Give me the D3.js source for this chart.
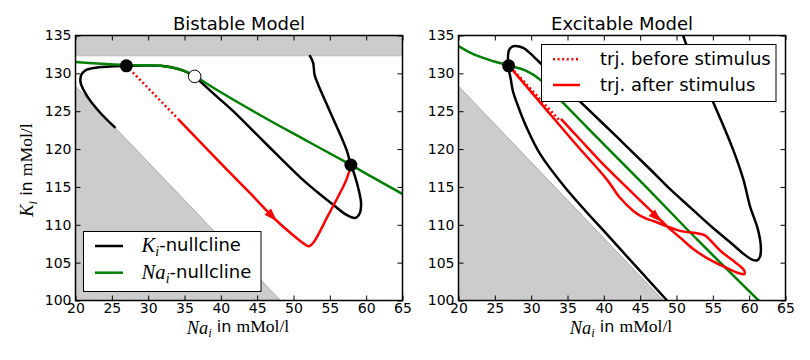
<!DOCTYPE html>
<html>
<head>
<meta charset="utf-8">
<script src="https://cdn.jsdelivr.net/npm/d3@7"></script>
<style>
  body { margin: 0; background: #fff; }
  svg text { font-family: "DejaVu Sans", sans-serif; fill: #000; }
</style>
</head>
<body>
<svg id="chart" width="810" height="360"></svg>
<script>
// ---- data (Na_i, K_i) ----
const xTickVals = [20, 25, 30, 35, 40, 45, 50, 55, 60, 65];
const yTickVals = [100, 105, 110, 115, 120, 125, 130, 135];

// forbidden region (both panels) and upper band (bistable only)
const forbiddenArea = [[20, 128.3], [48.2, 100], [20, 100]];
const bistableBand = [132.3, 135];

// Bistable model
const bistableK = [
  [25.5, 122.8], [23.4, 124.8], [21.6, 127.0], [20.7, 128.8], [20.8, 129.8], [21.3, 130.35],
  [22.5, 130.7], [24.8, 130.9], [27.0, 131.0], [29.5, 131.05], [31.7, 131.0], [33.5, 130.75],
  [35.0, 130.3], [36.4, 129.6], [37.3, 128.8], [39.5, 126.9], [41.7, 125.0], [46.0, 120.9],
  [51.0, 116.2], [53.3, 114.3], [55.4, 112.7], [57.3, 111.3], [58.5, 110.9], [59.1, 111.5],
  [59.3, 112.8], [59.0, 114.5], [58.4, 116.6], [57.9, 117.9], [57.3, 119.9], [55.0, 125.0],
  [53.4, 128.5], [52.9, 129.8], [52.7, 131.4], [52.2, 132.4]
];
const bistableNa = [
  [20, 131.5], [23, 131.3], [27, 131.1], [31.7, 131.0], [34.0, 130.6], [35.3, 130.2],
  [36.4, 129.7], [37.5, 129.0], [40, 127.5], [46.3, 124.0], [52, 121.0], [57.9, 117.9],
  [61.4, 116.0], [65.5, 113.8]
];
const bistableBefore = [[27.0, 131.0], [34.1, 124.0]];
const bistableAfter = [
  [34.1, 124.0], [40, 118.1], [44, 114.2], [47.5, 110.7], [50.5, 108.2], [51.6, 107.4],
  [52.1, 107.15], [52.7, 107.6], [54.8, 111.3], [57.3, 116.0], [57.9, 117.9]
];
const bistableArrow = [[44.6, 113.6], [47.7, 110.5]];
const bistableStable = [[27.0, 131.0], [57.9, 117.9]];
const bistableUnstable = [[36.4, 129.6]];

// Excitable model
const excitableK = [
  [50.4, 136.5], [51.6, 133.2], [52.8, 130.9], [55.5, 125.2], [57.8, 119.9], [59.2, 116.0],
  [60.1, 112.5], [61.2, 109.4], [61.6, 107.2], [61.5, 105.8], [61.1, 105.3], [60.4, 105.4],
  [59.3, 106.1], [57.5, 107.6], [55.0, 109.6], [52.0, 112.2], [48.9, 114.9], [46.4, 117.3],
  [41.8, 121.6], [36.7, 126.3], [33.5, 129.3], [31.0, 131.6], [29.8, 132.7], [28.9, 133.35],
  [27.8, 133.6], [27.2, 133.4], [26.9, 132.9], [26.85, 131.0], [27.2, 129.2], [27.5, 127.6],
  [28.3, 125.4], [29.4, 122.8], [31.2, 119.4], [34.7, 114.9], [41.5, 107.6], [48.7, 100],
  [49.3, 99.4]
];
const excitableNa = [
  [20, 133.6], [22.1, 132.5], [24.8, 131.6], [26.9, 131.05], [29.4, 130.3], [31.2, 129.2],
  [34.2, 126.3], [39.5, 121.1], [45.3, 115.5], [53, 107.9], [61.3, 100], [61.9, 99.4]
];
const excitableBefore = [[27.2, 130.8], [34.0, 123.7]];
const excitableAfter = [
  [34.1, 124.0], [36.7, 121.3], [40.0, 117.9], [43.4, 114.7], [47.3, 111.1], [48.7, 109.8],
  [50.5, 108.3], [52.3, 106.8], [54.2, 105.6], [56.9, 104.3], [58.6, 103.6], [59.35, 103.5],
  [59.3, 104.0], [58.4, 104.8], [56.0, 106.6], [54.6, 108.0], [53.9, 108.6], [53.0, 108.85],
  [50.5, 109.2], [48.7, 109.8], [46.8, 110.5], [45.6, 110.9], [44.1, 111.8], [42.2, 113.6],
  [40.4, 116.0], [36.0, 120.8], [31.2, 126.2], [27.1, 130.8]
];
const excitableArrow = [[44.7, 113.4], [47.9, 110.4]];
const excitableStable = [[26.9, 131.0]];

// ---- layout ----
const svg = d3.select("#chart");
const plotTop = 35.5, plotBottom = 300.5;
const black = "#000000", green = "#008000", red = "#ff0000", gray = "#cccccc";

const line = (x, y) => d3.line().x(d => x(d[0])).y(d => y(d[1]))
  .curve(d3.curveCatmullRom.alpha(0.5));

// text with matplotlib-style math pieces
function mathText(sel, parts) {
  parts.forEach(p => {
    const t = sel.append("tspan").text(p.t);
    if (p.kind === "mi") t.attr("font-family", "Liberation Serif").attr("font-style", "italic").attr("font-size", "1.15em");
    if (p.kind === "sub") t.attr("font-family", "Liberation Serif").attr("font-style", "italic")
      .attr("font-size", "0.78em").attr("dy", "0.3em");
    if (p.kind === "rm") t.attr("font-family", "Liberation Serif").attr("font-size", "1.1em");
    if (p.kind === "txt") t.attr("font-family", "DejaVu Sans");
    if (p.after) t.attr("dy", p.after);
  });
}

function drawPanel(p) {
  const x = d3.scaleLinear().domain([20, 65]).range([p.x0, p.x1]);
  const y = d3.scaleLinear().domain([100, 135]).range([plotBottom, plotTop]);
  const g = svg.append("g");

  svg.append("clipPath").attr("id", "clip" + p.id).append("rect")
    .attr("x", p.x0).attr("y", plotTop).attr("width", p.x1 - p.x0).attr("height", plotBottom - plotTop);
  const plot = g.append("g").attr("clip-path", `url(#clip${p.id})`);

  // shaded regions
  plot.append("path")
    .attr("d", d3.line().x(d => x(d[0])).y(d => y(d[1]))(forbiddenArea) + "Z")
    .attr("fill", gray);
  plot.append("line")
    .attr("x1", x(forbiddenArea[0][0])).attr("y1", y(forbiddenArea[0][1]))
    .attr("x2", x(forbiddenArea[1][0])).attr("y2", y(forbiddenArea[1][1]))
    .attr("stroke", "#aaaaaa").attr("stroke-width", 1);
  if (p.band) {
    plot.append("rect")
      .attr("x", p.x0).attr("width", p.x1 - p.x0)
      .attr("y", y(p.band[1])).attr("height", y(p.band[0]) - y(p.band[1]))
      .attr("fill", gray);
    plot.append("line")
      .attr("x1", p.x0).attr("x2", p.x1).attr("y1", y(p.band[0])).attr("y2", y(p.band[0]))
      .attr("stroke", "#aaaaaa").attr("stroke-width", 1).attr("stroke-dasharray", "1,1");
  }

  const curve = (data, color, dash) => plot.append("path").datum(data)
    .attr("d", line(x, y)).attr("fill", "none")
    .attr("stroke", color).attr("stroke-width", 2.5)
    .attr("stroke-linejoin", "round")
    .attr("stroke-dasharray", dash || null);

  curve(p.k, black);
  curve(p.na, green);
  curve(p.before, red, "2,2.6");
  curve(p.after, red);

  // arrow head along trajectory
  const [a, b] = p.arrow;
  const ax = x(a[0]), ay = y(a[1]), bx = x(b[0]), by = y(b[1]);
  const ang = Math.atan2(by - ay, bx - ax);
  const len = 13, hw = 4.5;
  const baseX = bx - len * Math.cos(ang), baseY = by - len * Math.sin(ang);
  const nx = -Math.sin(ang) * hw, ny = Math.cos(ang) * hw;
  plot.append("path")
    .attr("d", `M${bx},${by}L${baseX + nx},${baseY + ny}L${baseX - nx},${baseY - ny}Z`)
    .attr("fill", red);

  // fixed points
  plot.selectAll(".stable").data(p.stable).join("circle")
    .attr("cx", d => x(d[0])).attr("cy", d => y(d[1])).attr("r", 6.5)
    .attr("fill", black);
  plot.selectAll(".unstable").data(p.unstable).join("circle")
    .attr("cx", d => x(d[0])).attr("cy", d => y(d[1])).attr("r", 6.3)
    .attr("fill", "#fff").attr("stroke", black).attr("stroke-width", 1);

  // ticks on all four sides, pointing inward
  const styleAxis = sel => {
    sel.select(".domain").remove();
    sel.selectAll("line").attr("stroke", black);
    sel.selectAll("text").attr("font-size", 14).attr("font-family", "DejaVu Sans").attr("fill", black);
  };
  g.append("g").attr("transform", `translate(0,${plotBottom})`)
    .call(d3.axisBottom(x).tickValues(xTickVals).tickSizeInner(-5).tickSizeOuter(0).tickPadding(3))
    .call(styleAxis);
  g.append("g").attr("transform", `translate(0,${plotTop})`)
    .call(d3.axisTop(x).tickValues(xTickVals).tickSizeInner(-5).tickSizeOuter(0).tickFormat(""))
    .call(styleAxis);
  g.append("g").attr("transform", `translate(${p.x0},0)`)
    .call(d3.axisLeft(y).tickValues(yTickVals).tickSizeInner(-5).tickSizeOuter(0).tickPadding(4))
    .call(styleAxis);
  g.append("g").attr("transform", `translate(${p.x1},0)`)
    .call(d3.axisRight(y).tickValues(yTickVals).tickSizeInner(-5).tickSizeOuter(0).tickFormat(""))
    .call(styleAxis);

  g.append("rect")
    .attr("x", p.x0).attr("y", plotTop).attr("width", p.x1 - p.x0).attr("height", plotBottom - plotTop)
    .attr("fill", "none").attr("stroke", black).attr("stroke-width", 1.5);

  // title
  g.append("text").attr("x", (p.x0 + p.x1) / 2).attr("y", 29.5)
    .attr("text-anchor", "middle").attr("font-size", 18).text(p.title);

  // x label
  const xl = g.append("text").attr("x", (p.x0 + p.x1) / 2 - 1).attr("y", 333.5)
    .attr("text-anchor", "middle").attr("font-size", 16);
  mathText(xl, [{ t: "Na", kind: "mi" }, { t: "i", kind: "sub" }, { t: " in ", kind: "txt", after: "-0.3em" }, { t: "mMol/l", kind: "rm" }]);

  if (p.ylabel) {
    const yl = g.append("text").attr("transform", `translate(33,${(plotTop + plotBottom) / 2 + 2}) rotate(-90)`)
      .attr("text-anchor", "middle").attr("font-size", 16);
    mathText(yl, [{ t: "K", kind: "mi" }, { t: "i", kind: "sub" }, { t: " in ", kind: "txt", after: "-0.3em" }, { t: "mMol/l", kind: "rm" }]);
  }

  // legend
  const L = p.legend;
  const lg = g.append("g");
  lg.append("rect").attr("x", L.x).attr("y", L.y).attr("width", L.w).attr("height", L.h)
    .attr("fill", "#fff").attr("stroke", black).attr("stroke-width", 1);
  L.items.forEach((it, i) => {
    const ly = L.y + L.first + i * L.step;
    lg.append("line").attr("x1", L.x + L.lx0).attr("x2", L.x + L.lx1).attr("y1", ly).attr("y2", ly)
      .attr("stroke", it.color).attr("stroke-width", 2.5).attr("stroke-dasharray", it.dash || null);
    const t = lg.append("text").attr("x", L.x + L.tx).attr("y", ly + 6).attr("font-size", 18);
    mathText(t, it.parts);
  });
}

drawPanel({
  id: 0, x0: 75.5, x1: 402.5, title: "Bistable Model", ylabel: true, band: bistableBand,
  k: bistableK, na: bistableNa, before: bistableBefore, after: bistableAfter, arrow: bistableArrow,
  stable: bistableStable, unstable: bistableUnstable,
  legend: {
    x: 83.5, y: 231.5, w: 177.5, h: 60, first: 14.5, step: 26.7, lx0: 11.5, lx1: 39.5, tx: 58,
    items: [
      { color: black, parts: [{ t: "K", kind: "mi" }, { t: "i", kind: "sub" }, { t: "-nullcline", kind: "txt", after: "-0.3em" }] },
      { color: green, parts: [{ t: "Na", kind: "mi" }, { t: "i", kind: "sub" }, { t: "-nullcline", kind: "txt", after: "-0.3em" }] }
    ]
  }
});

drawPanel({
  id: 1, x0: 458.5, x1: 785.5, title: "Excitable Model", ylabel: false, band: null,
  k: excitableK, na: excitableNa, before: excitableBefore, after: excitableAfter, arrow: excitableArrow,
  stable: excitableStable, unstable: [],
  legend: {
    x: 541.5, y: 44.5, w: 234.5, h: 57, first: 14.8, step: 25.7, lx0: 11.5, lx1: 38.5, tx: 58.5,
    items: [
      { color: red, dash: "2,2.6", parts: [{ t: "trj. before stimulus", kind: "txt" }] },
      { color: red, parts: [{ t: "trj. after stimulus", kind: "txt" }] }
    ]
  }
});
</script>
</body>
</html>
